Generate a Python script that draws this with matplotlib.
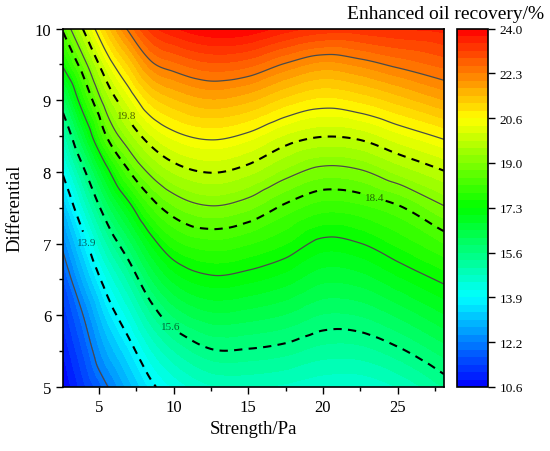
import numpy as np
import matplotlib
matplotlib.use("Agg")
import matplotlib.pyplot as plt
import matplotlib.tri as mtri
from matplotlib.colors import LinearSegmentedColormap
from matplotlib.ticker import MultipleLocator

# ---- data ----
strength = [2.6, 4.0, 5.5, 7.0, 8.5, 10.0, 12.5, 15.0, 17.5, 20.0, 22.5, 25.0, 28.1]
differential = [5.0, 5.5, 6.0, 6.5, 7.0, 7.5, 8.0, 8.5, 9.0, 9.5, 10.0]
# enhanced oil recovery (%), one list per strength value, bottom -> top
recovery_by_strength = [
    [10.60, 10.90, 11.25, 11.70, 12.35, 13.10, 13.99, 14.90, 16.00, 17.40, 18.50],
    [11.36, 11.78, 12.24, 12.95, 13.68, 14.57, 15.49, 16.61, 17.76, 18.79, 19.88],
    [12.14, 12.82, 13.47, 14.19, 15.04, 15.97, 17.07, 18.40, 19.30, 20.24, 21.30],
    [12.97, 13.63, 14.36, 15.14, 16.04, 17.09, 18.35, 19.37, 20.25, 21.26, 22.40],
    [13.76, 14.48, 15.29, 16.16, 17.06, 18.11, 19.12, 20.07, 21.07, 22.20, 23.30],
    [14.27, 15.05, 15.94, 16.82, 17.72, 18.64, 19.56, 20.46, 21.44, 22.52, 23.68],
    [14.75, 15.55, 16.38, 17.20, 18.03, 18.95, 19.82, 20.70, 21.73, 22.82, 24.00],
    [14.80, 15.55, 16.32, 17.10, 17.88, 18.76, 19.62, 20.50, 21.55, 22.70, 23.95],
    [14.72, 15.44, 16.16, 16.87, 17.59, 18.30, 19.17, 20.05, 21.11, 22.26, 23.60],
    [14.57, 15.22, 15.88, 16.53, 17.18, 17.97, 18.85, 19.82, 20.84, 21.95, 23.35],
    [14.55, 15.23, 15.92, 16.60, 17.29, 18.05, 18.94, 19.91, 21.00, 22.12, 23.35],
    [14.80, 15.51, 16.23, 16.95, 17.65, 18.33, 19.33, 20.28, 21.33, 22.40, 23.45],
    [15.36, 16.03, 16.71, 17.39, 18.13, 18.95, 19.77, 20.69, 21.76, 22.70, 23.55],
]
solid_levels = [12.2, 17.3, 19.0, 20.6, 22.3]
dashed_levels = [13.9, 15.6, 18.4, 19.8]
cbar_min, cbar_max = 10.6, 24.0
cbar_tick_labels = ["10.6", "12.2", "13.9", "15.6", "17.3", "19.0", "20.6", "22.3", "24.0"]
x_ticks = [5, 10, 15, 20, 25]
y_ticks = [5, 6, 7, 8, 9, 10]

plt.rcParams["font.family"] = ["Liberation Serif", "DejaVu Serif"]

fig = plt.figure(figsize=(5.5, 4.52), dpi=100)
ax = fig.add_axes([0.1145, 0.1416, 0.6925, 0.7931])

X, Y = np.meshgrid(strength, differential)
Z = np.array(recovery_by_strength).T

# smooth rendering of the read grid with matplotlib's own tri refiner
tri = mtri.Triangulation(X.ravel(), Y.ravel())
interp = mtri.CubicTriInterpolator(tri, Z.ravel(), kind="geom")
refiner = mtri.UniformTriRefiner(tri)
tri_r, z_r = refiner.refine_field(Z.ravel(), triinterpolator=interp, subdiv=4)
z_r = np.clip(z_r, cbar_min, cbar_max)

levels = np.linspace(cbar_min, cbar_max, 49)
cmap = LinearSegmentedColormap.from_list(
    "rainbow5", ["#0000ff", "#00ffff", "#00ff00", "#ffff00", "#ff0000"])
cf = ax.tricontourf(tri_r, z_r, levels=levels, cmap=cmap)
cs_solid = ax.tricontour(tri_r, z_r, levels=solid_levels, colors="#4a4a4a", linewidths=0.9)
cs_dash = ax.tricontour(tri_r, z_r, levels=dashed_levels, colors="black", linewidths=1.5,
                        linestyles=[(0, (4, 3))])
lbls = ax.clabel(cs_dash, fmt="%.1f", fontsize=8, inline=True, inline_spacing=2,
                 colors="black",
                 manual=[(4.3, 7.02), (9.8, 5.85), (23.5, 7.68), (6.9, 8.8)])
for t in lbls:
    t.set_rotation(0)
    t.set_alpha(0.6)

ax.set_xlim(strength[0], strength[-1])
ax.set_ylim(differential[0], differential[-1])
ax.set_xticks(x_ticks)
ax.set_yticks(y_ticks)
ax.xaxis.set_minor_locator(MultipleLocator(2.5))
ax.yaxis.set_minor_locator(MultipleLocator(0.5))
ax.tick_params(which="major", direction="out", length=5, width=1, labelsize=12,
               top=False, right=False)
ax.tick_params(which="minor", direction="out", length=3, width=1, top=False, right=False)
for s in ax.spines.values():
    s.set_linewidth(1.2)
ax.set_xlabel("Strength/Pa", fontsize=13.5, labelpad=4)
ax.set_ylabel("Differential", fontsize=13.5, labelpad=8)

cax = fig.add_axes([0.830, 0.1416, 0.0564, 0.7931])
cb = fig.colorbar(cf, cax=cax, ticks=np.linspace(cbar_min, cbar_max, len(cbar_tick_labels)))
cb.ax.set_yticklabels(cbar_tick_labels)
cb.ax.tick_params(labelsize=9.5, length=5, width=1, direction="out")
cb.ax.minorticks_off()
cb.outline.set_linewidth(1.2)
fig.text(0.811, 0.967, "Enhanced oil recovery/%", ha="center", va="center", fontsize=14)

fig.savefig("out.png", dpi=100)
